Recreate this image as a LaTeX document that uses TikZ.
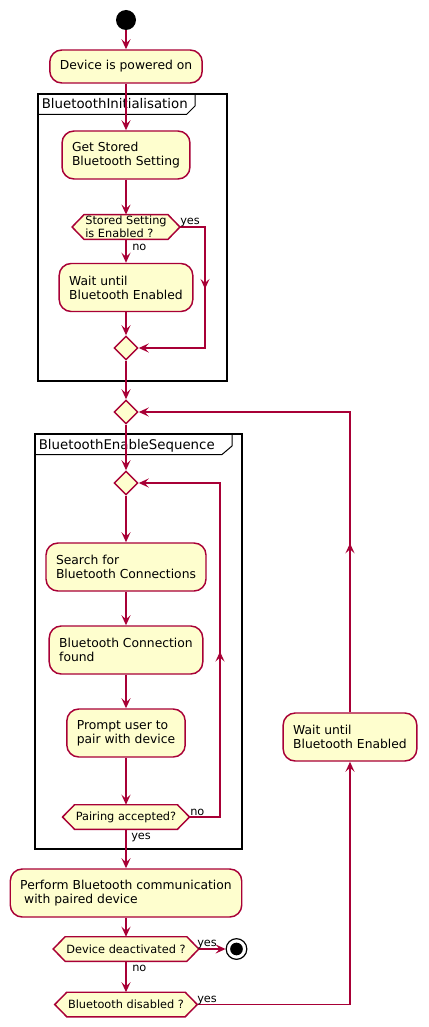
\documentclass[tikz,border=0pt]{standalone}
\usepackage{fontspec}
\setmainfont{DejaVu Sans}
\usetikzlibrary{arrows.meta,shapes.geometric,decorations.markings}
\pgfdeclarelayer{bg}
\pgfsetlayers{bg,main}
\definecolor{umlred}{HTML}{A80036}
\definecolor{umlfill}{HTML}{FEFECE}
\newcommand{\hexbg}[1]{%
  \begin{pgfonlayer}{bg}
  \draw[hexline] (#1.west) -- ([xshift=9pt]#1.north west) -- ([xshift=-9pt]#1.north east) -- (#1.east) -- ([xshift=-9pt]#1.south east) -- ([xshift=9pt]#1.south west) -- cycle;
  \end{pgfonlayer}}
\begin{document}
\begin{tikzpicture}[x=0.75pt,y=-0.75pt,
  >={Stealth[length=7.5pt,width=6.75pt,inset=3pt]},
  conn/.style={draw=umlred, line width=1.1pt, ->},
  act/.style={draw=umlred, fill=umlfill, line width=1.1pt, rounded corners=9pt, align=left,
    font=\fontsize{9.25}{10.5}\selectfont, inner xsep=7.5pt, minimum height=36pt},
  hexnode/.style={align=left, font=\fontsize{8.5}{9.6}\selectfont, inner xsep=9.75pt, inner ysep=1pt, minimum height=18pt},
  hexline/.style={draw=umlred, fill=umlfill, line width=1.1pt},
  merge/.style={diamond, draw=umlred, fill=umlfill, line width=1.1pt, minimum width=18pt, minimum height=18pt, inner sep=0pt},
  lbl/.style={font=\fontsize{8.5}{10}\selectfont, inner sep=0pt, anchor=base west},
  frame/.style={draw=black, line width=1.5pt},
  tabline/.style={draw=black, line width=0.75pt},
  gtitle/.style={font=\fontsize{10}{12}\selectfont, inner sep=0pt, anchor=base west},
  midarrow/.style={postaction={decorate}, decoration={markings, mark=at position #1 with {\arrow{>}}}}
]
\useasboundingbox (0,0) rectangle (428,1027);

% group frames
\draw[frame] (38,94) rectangle (226.5,381);
\draw[tabline] (38,114.5) -- (186.5,114.5) -- (195,106) -- (195,94);
\node[gtitle] (g1title) at (41.5,108.5) {BluetoothInitialisation};
\draw[frame] (35,434) rectangle (242,849);
\draw[tabline] (35,454.5) -- (222,454.5) -- (232,446) -- (232,434);
\node[gtitle] (g2title) at (38.5,449) {BluetoothEnableSequence};

% nodes
\node[circle, fill=black, minimum size=15pt, inner sep=0pt] (start) at (126,20) {};
\node[act, minimum height=24.75pt] (box1) at (126,66.5) {Device is powered on};
\node[act] (box2) at (126,155) {Get Stored\\Bluetooth Setting};
\node[hexnode] (h1) at (126,227) {Stored Setting\\is Enabled ?};
\hexbg{h1}
\node[act] (box3) at (126,287.5) {Wait until\\Bluetooth Enabled};
\node[merge] (m1) at (126,348) {};
\node[merge] (m2) at (126,412) {};
\node[merge] (m3) at (126,483) {};
\node[act] (box4) at (126,567) {Search for\\Bluetooth Connections};
\node[act] (box5) at (126,650) {Bluetooth Connection\\found};
\node[act] (box6) at (126,733) {Prompt user to\\pair with device};
\node[hexnode] (h2) at (126,817) {Pairing accepted?};
\hexbg{h2}
\node[act] (box8) at (126,893) {Perform Bluetooth communication\\\hspace*{0.318em}with paired device};
\node[hexnode] (h3) at (126,949) {Device deactivated ?};
\hexbg{h3}
\node[hexnode] (h4) at (126,1004.5) {Bluetooth disabled ?};
\hexbg{h4}
\node[act] (box7) at (350,737) {Wait until\\Bluetooth Enabled};
\node[circle, draw=black, line width=0.9pt, fill=white, minimum size=15.5pt, inner sep=0pt] (stop) at (236.5,949) {};
\node[circle, fill=black, minimum size=9.5pt, inner sep=0pt] (stopdot) at (stop) {};

\coordinate (railA) at (205,0);
\coordinate (railB) at (220,0);

% connectors
\draw[conn] (start) -- (box1);
\draw[conn] (box1) -- (box2);
\draw[conn] (box2) -- (h1);
\draw[conn] (h1) -- (box3);
\draw[conn, midarrow=65.25pt] (h1.east) -- (h1.east -| railA) |- (m1.east);
\draw[conn] (box3) -- (m1);
\draw[conn] (m1) -- (m2);
\draw[conn] (m2) -- (m3);
\draw[conn] (m3) -- (box4);
\draw[conn] (box4) -- (box5);
\draw[conn] (box5) -- (box6);
\draw[conn] (box6) -- (h2);
\draw[conn, midarrow=147pt] (h2.east) -- (h2.east -| railB) |- (m3.east);
\draw[conn] (h2) -- (box8);
\draw[conn] (box8) -- (h3);
\draw[conn] (h3) -- (stop);
\draw[conn] (h3) -- (h4);
\draw[conn] (h4.east) -| (box7.south);
\draw[conn, midarrow=126.75pt] (box7.north) |- (m2.east);

% labels
\node[lbl] (lno1) at (132,250) {no};
\node[lbl] (lyes1) at (180,224) {yes};
\node[lbl] (lno2) at (190,815) {no};
\node[lbl] (lyes2) at (131,839) {yes};
\node[lbl] (lyes3) at (197,946) {yes};
\node[lbl] (lno3) at (132,971) {no};
\node[lbl] (lyes4) at (197,1002) {yes};
\end{tikzpicture}
\end{document}
